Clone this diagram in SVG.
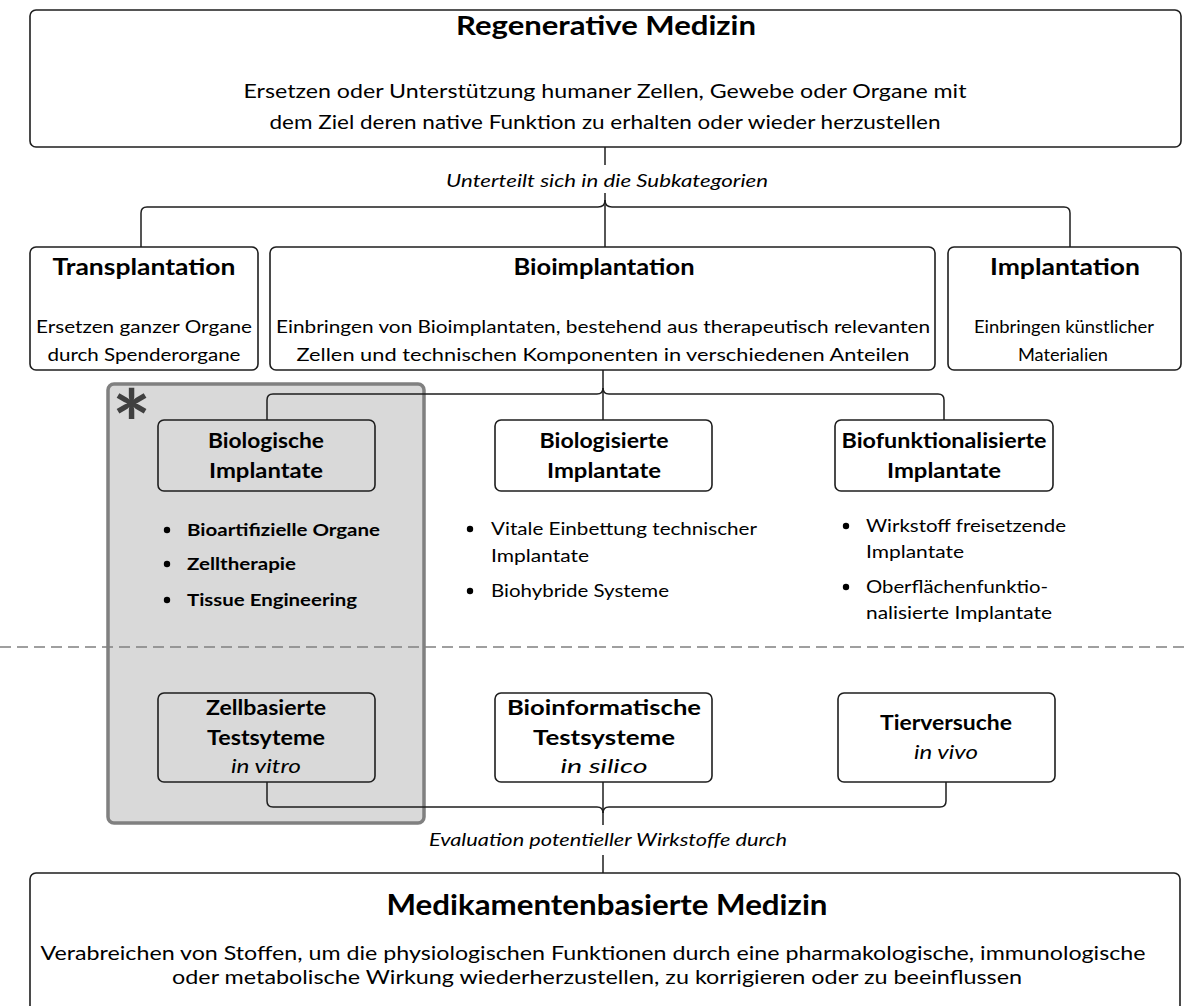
<svg xmlns="http://www.w3.org/2000/svg" width="1184" height="1006" viewBox="0 0 1184 1006">
<style>
.box{fill:#fff;stroke:#1e1e1e;stroke-width:1.6}
.tbox{fill:none;stroke:#1e1e1e;stroke-width:1.6}
.con{fill:none;stroke:#1e1e1e;stroke-width:1.5}
.t{font-family:Lato,"Liberation Sans",sans-serif;fill:#000}
.b{font-weight:bold}
.i{font-style:italic}
.c{text-anchor:middle}
.dot{fill:#000}
</style>
<rect width="1184" height="1006" fill="#fff"/>

<!-- gray highlight region -->
<g id="highlight">
<rect x="108" y="384" width="316" height="439" rx="6" fill="#d9d9d9" stroke="#808080" stroke-width="3.5"/>
<text class="t b" x="112" y="458" font-size="92" style="fill:#404040">*</text>
</g>

<!-- dashed separator -->
<line x1="0" y1="647" x2="1184" y2="647" stroke="#808080" stroke-width="1.6" stroke-dasharray="11 6"/>

<g id="connectors">
<path class="con" d="M605,147 V165"/>
<path class="con" d="M605,193 V247"/>
<path class="con" d="M605,200 Q605,207 598,207 H147 Q141,207 141,213 V247"/>
<path class="con" d="M605,200 Q605,207 612,207 H1064 Q1070,207 1070,213 V247"/>
<path class="con" d="M603,370 V420"/>
<path class="con" d="M603,388 Q603,394 597,394 H273 Q267,394 267,400 V420"/>
<path class="con" d="M603,388 Q603,394 609,394 H938 Q944,394 944,400 V420"/>
<path class="con" d="M603,782 V825"/>
<path class="con" d="M267,782 V801 Q267,807 273,807 H597 Q603,807 603,813"/>
<path class="con" d="M946,782 V801 Q946,807 940,807 H609 Q603,807 603,813"/>
<path class="con" d="M603,855 V873"/>
<text class="t i c" x="607" y="187" font-size="17" textLength="322" lengthAdjust="spacingAndGlyphs">Unterteilt sich in die Subkategorien</text>
<text class="t i c" x="608" y="846" font-size="17" textLength="358" lengthAdjust="spacingAndGlyphs">Evaluation potentieller Wirkstoffe durch</text>
</g>

<g id="regenerative-medizin">
<rect class="box" x="30" y="10" width="1151" height="137" rx="6"/>
<text class="t b c" x="606" y="35" font-size="26" textLength="300" lengthAdjust="spacingAndGlyphs">Regenerative Medizin</text>
<text class="t c" x="605" y="98" font-size="19.5" textLength="723" lengthAdjust="spacingAndGlyphs">Ersetzen oder Unterstützung humaner Zellen, Gewebe oder Organe mit</text>
<text class="t c" x="605" y="129" font-size="19.5" textLength="671" lengthAdjust="spacingAndGlyphs">dem Ziel deren native Funktion zu erhalten oder wieder herzustellen</text>
</g>

<g id="transplantation">
<rect class="box" x="30" y="247" width="228" height="123" rx="6"/>
<text class="t b c" x="144" y="275" font-size="22" textLength="183" lengthAdjust="spacingAndGlyphs">Transplantation</text>
<text class="t c" x="144" y="333" font-size="18" textLength="216" lengthAdjust="spacingAndGlyphs">Ersetzen ganzer Organe</text>
<text class="t c" x="144" y="361" font-size="18" textLength="193" lengthAdjust="spacingAndGlyphs">durch Spenderorgane</text>
</g>

<g id="bioimplantation">
<rect class="box" x="270" y="247" width="665" height="123" rx="6"/>
<text class="t b c" x="604" y="275" font-size="22" textLength="181" lengthAdjust="spacingAndGlyphs">Bioimplantation</text>
<text class="t c" x="603" y="333" font-size="18" textLength="654" lengthAdjust="spacingAndGlyphs">Einbringen von Bioimplantaten, bestehend aus therapeutisch relevanten</text>
<text class="t c" x="603" y="361" font-size="18" textLength="613" lengthAdjust="spacingAndGlyphs">Zellen und technischen Komponenten in verschiedenen Anteilen</text>
</g>

<g id="implantation">
<rect class="box" x="948" y="247" width="233" height="123" rx="6"/>
<text class="t b c" x="1065" y="275" font-size="22" textLength="150" lengthAdjust="spacingAndGlyphs">Implantation</text>
<text class="t c" x="1064" y="333" font-size="18" textLength="180" lengthAdjust="spacingAndGlyphs">Einbringen künstlicher</text>
<text class="t c" x="1063" y="361" font-size="18" textLength="90" lengthAdjust="spacingAndGlyphs">Materialien</text>
</g>

<g id="biologische-implantate">
<rect class="tbox" x="158" y="420" width="217" height="71" rx="6"/>
<text class="t b c" x="266" y="448" font-size="20" textLength="116" lengthAdjust="spacingAndGlyphs">Biologische</text>
<text class="t b c" x="266" y="478" font-size="20" textLength="114" lengthAdjust="spacingAndGlyphs">Implantate</text>
<circle class="dot" cx="167" cy="530" r="3.2"/>
<circle class="dot" cx="167" cy="564" r="3.2"/>
<circle class="dot" cx="167" cy="600" r="3.2"/>
<text class="t b" x="187" y="536" font-size="17" textLength="193" lengthAdjust="spacingAndGlyphs">Bioartifizielle Organe</text>
<text class="t b" x="187" y="570" font-size="17" textLength="109" lengthAdjust="spacingAndGlyphs">Zelltherapie</text>
<text class="t b" x="187" y="606" font-size="17" textLength="170" lengthAdjust="spacingAndGlyphs">Tissue Engineering</text>
</g>

<g id="biologisierte-implantate">
<rect class="box" x="495" y="420" width="217" height="71" rx="6"/>
<text class="t b c" x="604" y="448" font-size="20" textLength="129" lengthAdjust="spacingAndGlyphs">Biologisierte</text>
<text class="t b c" x="604" y="478" font-size="20" textLength="114" lengthAdjust="spacingAndGlyphs">Implantate</text>
<circle class="dot" cx="470" cy="529" r="3.2"/>
<circle class="dot" cx="470" cy="591" r="3.2"/>
<text class="t" x="491" y="535" font-size="17" textLength="266" lengthAdjust="spacingAndGlyphs">Vitale Einbettung technischer</text>
<text class="t" x="491" y="562" font-size="17" textLength="98" lengthAdjust="spacingAndGlyphs">Implantate</text>
<text class="t" x="491" y="597" font-size="17" textLength="178" lengthAdjust="spacingAndGlyphs">Biohybride Systeme</text>
</g>

<g id="biofunktionalisierte-implantate">
<rect class="box" x="835" y="420" width="218" height="71" rx="6"/>
<text class="t b c" x="944" y="448" font-size="20" textLength="205" lengthAdjust="spacingAndGlyphs">Biofunktionalisierte</text>
<text class="t b c" x="944" y="478" font-size="20" textLength="114" lengthAdjust="spacingAndGlyphs">Implantate</text>
<circle class="dot" cx="846" cy="526" r="3.2"/>
<circle class="dot" cx="846" cy="587" r="3.2"/>
<text class="t" x="866" y="532" font-size="17" textLength="200" lengthAdjust="spacingAndGlyphs">Wirkstoff freisetzende</text>
<text class="t" x="866" y="558" font-size="17" textLength="98" lengthAdjust="spacingAndGlyphs">Implantate</text>
<text class="t" x="866" y="593" font-size="17" textLength="182" lengthAdjust="spacingAndGlyphs">Oberflächenfunktio-</text>
<text class="t" x="866" y="619" font-size="17" textLength="186" lengthAdjust="spacingAndGlyphs">nalisierte Implantate</text>
</g>

<g id="zellbasierte-testsysteme">
<rect class="tbox" x="158" y="693" width="217" height="89" rx="6"/>
<text class="t b c" x="266" y="715" font-size="20" textLength="120" lengthAdjust="spacingAndGlyphs">Zellbasierte</text>
<text class="t b c" x="266" y="745" font-size="20" textLength="118" lengthAdjust="spacingAndGlyphs">Testsyteme</text>
<text class="t i c" x="266" y="773" font-size="20" textLength="70" lengthAdjust="spacingAndGlyphs">in vitro</text>
</g>

<g id="bioinformatische-testsysteme">
<rect class="box" x="495" y="693" width="217" height="89" rx="6"/>
<text class="t b c" x="604" y="715" font-size="20" textLength="194" lengthAdjust="spacingAndGlyphs">Bioinformatische</text>
<text class="t b c" x="604" y="745" font-size="20" textLength="142" lengthAdjust="spacingAndGlyphs">Testsysteme</text>
<text class="t i c" x="604" y="773" font-size="20" textLength="87" lengthAdjust="spacingAndGlyphs">in silico</text>
</g>

<g id="tierversuche">
<rect class="box" x="838" y="693" width="217" height="89" rx="6"/>
<text class="t b c" x="946" y="730" font-size="20" textLength="132" lengthAdjust="spacingAndGlyphs">Tierversuche</text>
<text class="t i c" x="946" y="759" font-size="20" textLength="64" lengthAdjust="spacingAndGlyphs">in vivo</text>
</g>

<g id="medikamentenbasierte-medizin">
<rect class="box" x="30" y="873" width="1150" height="150" rx="6"/>
<text class="t b c" x="607" y="915" font-size="29" textLength="441" lengthAdjust="spacingAndGlyphs">Medikamentenbasierte Medizin</text>
<text class="t c" x="593" y="960" font-size="19.5" textLength="1105" lengthAdjust="spacingAndGlyphs">Verabreichen von Stoffen, um die physiologischen Funktionen durch eine pharmakologische, immunologische</text>
<text class="t c" x="597" y="984" font-size="19.5" textLength="850" lengthAdjust="spacingAndGlyphs">oder metabolische Wirkung wiederherzustellen, zu korrigieren oder zu beeinflussen</text>
</g>
</svg>
